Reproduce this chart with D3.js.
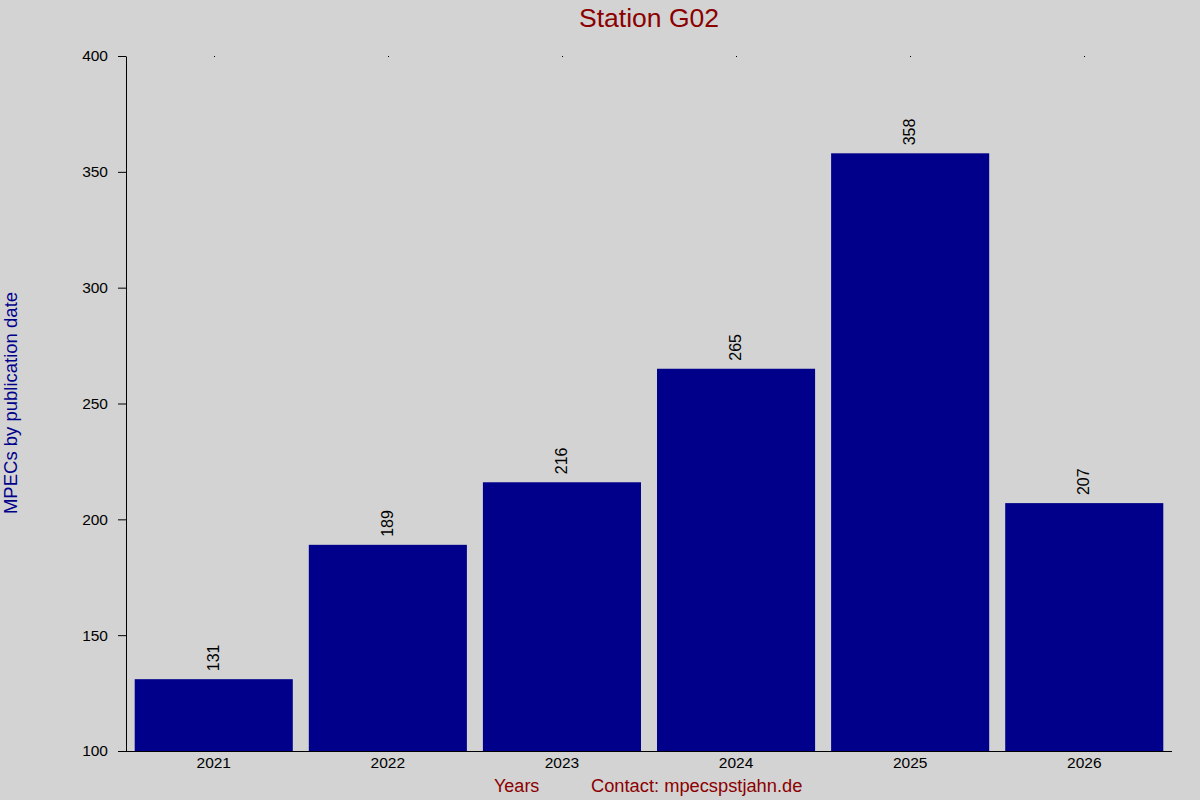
<!DOCTYPE html>
<html><head><meta charset="utf-8">
<script src="https://cdn.jsdelivr.net/npm/d3@7"></script>
<style>html,body{margin:0;padding:0;background:#d3d3d3;}svg{display:block;font-family:"Liberation Sans",Arial,sans-serif;}</style>
</head><body>
<svg id="c" width="1200" height="800"></svg>
<script>
const years = ["2021","2022","2023","2024","2025","2026"];
const counts = [131,189,216,265,358,207];
const yTicks = [100,150,200,250,300,350,400];

const svg = d3.select("#c");
svg.append("rect").attr("width",1200).attr("height",800).attr("fill","#d3d3d3");
const L=126,R=1172,T=56,B=751;
const x = d3.scaleBand().domain(years).range([L,R]).paddingInner(0.092).paddingOuter(0.05);
const y = d3.scaleLinear().domain([100,400]).range([B,T]);

svg.selectAll("rect.bar").data(years).enter().append("rect").attr("class","bar")
  .attr("x",d=>x(d)).attr("width",x.bandwidth())
  .attr("y",(d,i)=>y(counts[i])).attr("height",(d,i)=>B-y(counts[i]))
  .attr("fill","#00008b");

svg.selectAll("text.val").data(years).enter().append("text").attr("class","val")
  .attr("transform",(d,i)=>`translate(${x(d)+x.bandwidth()/2+5},${y(counts[i])-8}) rotate(-90)`)
  .attr("font-size",16).attr("fill","#000").text((d,i)=>counts[i]);

const ya = svg.append("g").attr("transform",`translate(${L},0)`)
  .call(d3.axisLeft(y).tickValues(yTicks).tickSize(8).tickSizeOuter(0).tickPadding(10));
ya.select(".domain").attr("stroke","#000");
ya.selectAll("text").attr("font-size",15.5).attr("font-family","Liberation Sans, Arial, sans-serif").attr("fill","#000");

const xa = svg.append("g").attr("transform",`translate(0,${B})`)
  .call(d3.axisBottom(x).tickSize(0).tickSizeOuter(0).tickPadding(6));
xa.select(".domain").attr("stroke","#000").attr("d",`M${L},0.5H${R}`);
xa.selectAll("text").attr("font-size",15.5).attr("font-family","Liberation Sans, Arial, sans-serif").attr("fill","#000");

// tiny top markers
svg.selectAll("rect.dot").data(years).enter().append("rect").attr("class","dot")
  .attr("x",d=>Math.round(x(d)+x.bandwidth()/2)).attr("y",T).attr("width",1).attr("height",1).attr("fill","#000");

svg.append("text").attr("x",649).attr("y",27).attr("text-anchor","middle")
  .attr("font-size",26.5).attr("fill","#8b0000").text("Station G02");
svg.append("text").attr("transform","translate(17,403) rotate(-90)").attr("text-anchor","middle")
  .attr("font-size",18.5).attr("fill","#00008b").text("MPECs by publication date");
svg.append("text").attr("x",494).attr("y",792).attr("font-size",18).attr("fill","#8b0000").text("Years");
svg.append("text").attr("x",591).attr("y",792).attr("font-size",18.3).attr("fill","#8b0000").text("Contact: mpecspstjahn.de");
</script>
</body></html>
